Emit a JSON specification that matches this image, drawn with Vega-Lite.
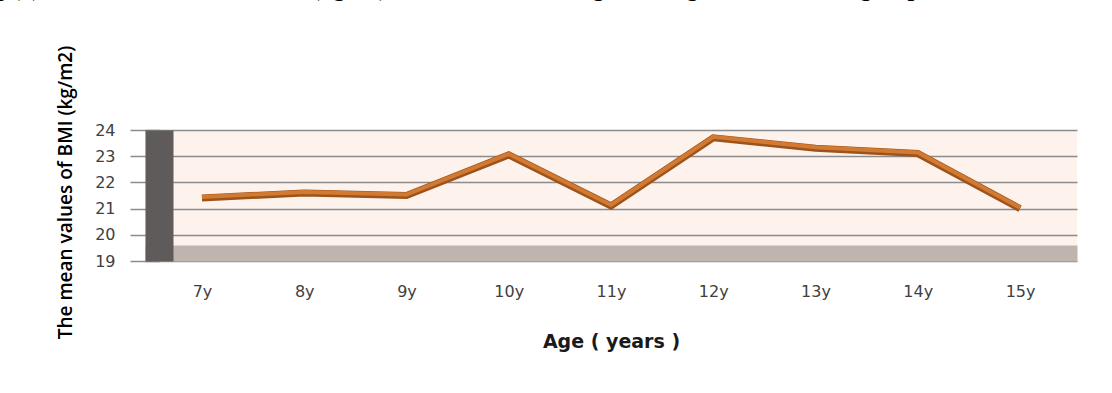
{
  "$schema": "https://vega.github.io/schema/vega-lite/v6.json",
  "autosize": {"type": "none"},
  "width": 932,
  "height": 131,
  "padding": {"left": 145, "top": 130, "right": 35, "bottom": 132},
  "background": "#ffffff",
  "title": {
    "text": "Fig (9): The mean values of BMI (kg/m²) for female according to the age in the studied group.",
    "anchor": "start",
    "frame": "group",
    "orient": "top",
    "font": "Liberation Serif",
    "fontSize": 24,
    "fontWeight": "bold",
    "color": "#000000",
    "baseline": "alphabetic",
    "offset": 25,
    "dx": -172
  },
  "config": {
    "view": {"fill": "#fdf2ec", "stroke": null},
    "font": "DejaVu Sans"
  },
  "data": {
    "values": [
      {"age": "7y", "bmi": 21.4},
      {"age": "8y", "bmi": 21.6},
      {"age": "9y", "bmi": 21.5},
      {"age": "10y", "bmi": 23.05},
      {"age": "11y", "bmi": 21.1},
      {"age": "12y", "bmi": 23.7},
      {"age": "13y", "bmi": 23.3},
      {"age": "14y", "bmi": 23.1},
      {"age": "15y", "bmi": 21.0}
    ]
  },
  "encoding": {
    "x": {
      "field": "age",
      "type": "ordinal",
      "sort": null,
      "scale": {"type": "point", "padding": 0.557},
      "axis": {
        "orient": "bottom",
        "offset": -8,
        "domain": true,
        "domainWidth": 16,
        "domainColor": "#c0b4ae",
        "ticks": false,
        "tickSize": 0,
        "grid": false,
        "labelAngle": 0,
        "labelPadding": 30,
        "labelFont": "DejaVu Sans",
        "labelFontSize": 16,
        "labelColor": "#404040",
        "title": "Age ( years )",
        "titleFont": "DejaVu Sans",
        "titleFontSize": 19,
        "titleFontWeight": "bold",
        "titleColor": "#1a1a1a",
        "titleY": 79,
        "titleBaseline": "top"
      }
    },
    "y": {
      "field": "bmi",
      "type": "quantitative",
      "scale": {"domain": [19, 24], "nice": false, "zero": false},
      "axis": {
        "orient": "left",
        "values": [19, 20, 21, 22, 23, 24],
        "offset": -14,
        "domain": true,
        "domainWidth": 28,
        "domainColor": "#5f5b5a",
        "ticks": true,
        "tickSize": 29,
        "tickWidth": 1.5,
        "tickColor": "#8c8c8c",
        "grid": true,
        "gridColor": "#8c8c8c",
        "gridWidth": 1.5,
        "labelPadding": 15,
        "labelFont": "DejaVu Sans",
        "labelFontSize": 16,
        "labelColor": "#404040",
        "title": "The mean values of BMI (kg/m2)",
        "titleFont": "Open Sans",
        "titleFontSize": 19,
        "titleFontWeight": 600,
        "titleColor": "#000000",
        "titleAngle": -90,
        "titleX": -84,
        "titleY": 62,
        "titleBaseline": "bottom"
      }
    }
  },
  "layer": [
    {
      "mark": {"type": "line", "color": "#9c531c", "strokeWidth": 7, "strokeJoin": "miter", "strokeCap": "butt"}
    },
    {
      "mark": {"type": "line", "color": "#d27a31", "strokeWidth": 4, "yOffset": -1, "strokeJoin": "miter", "strokeCap": "butt"}
    }
  ]
}
